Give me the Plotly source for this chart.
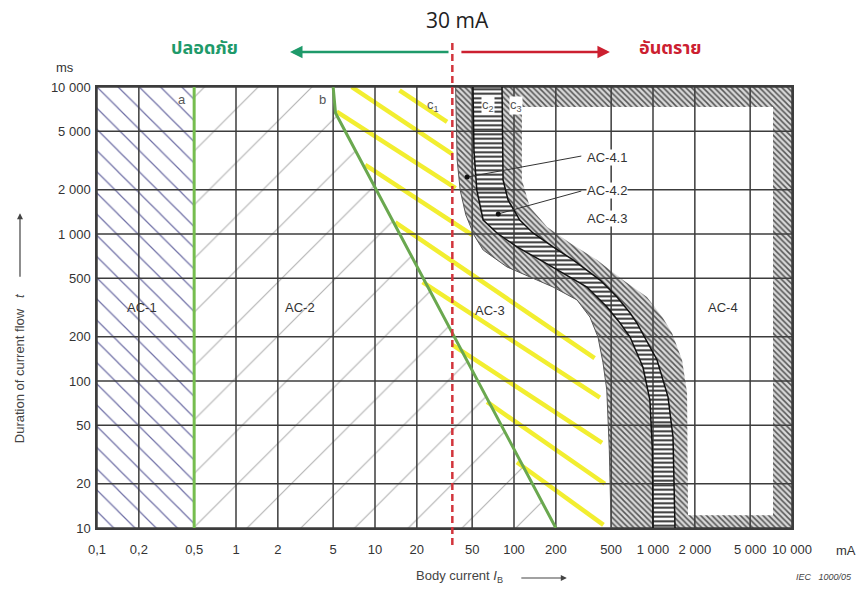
import math
import plotly.graph_objects as go

# ---------------- data ----------------
x_ticks = [0.1, 0.2, 0.5, 1, 2, 5, 10, 20, 50, 100, 200, 500, 1000, 2000, 5000, 10000]
x_ticktext = ["0,1", "0,2", "0,5", "1", "2", "5", "10", "20", "50", "100", "200",
              "500", "1 000", "2 000", "5 000", "10 000"]
y_ticks = [10, 20, 50, 100, 200, 500, 1000, 2000, 5000, 10000]
y_ticktext = ["10", "20", "50", "100", "200", "500", "1 000", "2 000", "5 000", "10 000"]

x_min, x_max = 0.1, 10000
t_min, t_max = 10, 10000

# curve a and curve b
a_current = [0.5, 0.5]
a_time = [10, 10000]
b_current = [5.0, 5.2, 200]
b_time = [10000, 6650, 10]

# curves c1, c2, c3
c1_current = [38, 39, 41, 45, 51.5, 60, 89, 130, 191, 284, 352, 402, 437, 465, 485, 500]
c1_time = [10000, 3190, 1990, 1350, 985, 778, 597, 510, 436, 356, 272, 199, 133, 87, 34, 10]
c2_current = [50.7, 51.5, 54, 60, 75.5, 105, 154, 225, 335, 467, 579, 684, 847, 950, 990, 1000]
c2_time = [10000, 3730, 1990, 1245, 1016, 816, 666, 543, 436, 319, 248, 199, 124, 74, 34, 10]
c3_current = [82, 83.4, 90.6, 110, 137, 191, 266, 416, 551, 684, 767, 1069, 1282, 1393, 1440]
c3_time = [10000, 2330, 1704, 1245, 1016, 816, 666, 486, 373, 290, 248, 139, 78, 41.6, 10]

# inner edge of the hatched AC-4.3 border
edge_current = [114, 114, 130, 173, 253, 396, 608, 905, 1180, 1370, 1618, 1758, 1786]
edge_time = [7310, 2330, 1527, 1116, 868, 666, 486, 373, 268, 212, 139, 83, 12.2]
frame_inner_right = 7300
frame_inner_top = 7310
frame_inner_bottom = 12.2

# yellow highlight strokes in AC-3
yellow_start_current = [6.8, 15, 5.3, 8.5, 14, 22, 36, 64, 105]
yellow_start_time = [10000, 9500, 6800, 2950, 1200, 470, 176, 72, 28]
yellow_end_current = [36, 33, 38, 50, 380, 415, 430, 450, 440]
yellow_end_time = [3500, 5800, 2050, 985, 143, 77, 38, 20, 10.5]

# 30 mA marker (as drawn)
threshold_current = 36

# leader lines for AC-4.1 / AC-4.2
leader_dot_current = [46, 77]
leader_dot_time = [2440, 1370]
leader_end_current = [305, 305]
leader_end_time = [3390, 1960]

zone_labels = ["AC-1", "AC-2", "AC-3", "AC-4"]
zone_current = [0.211, 2.89, 67, 3190]
zone_time = [314, 314, 304, 314]

sub_labels = ["AC-4.1", "AC-4.2", "AC-4.3"]
sub_current = [470, 470, 470]
sub_time = [3340, 1962, 1265]

FONT = "Liberation Sans, Arial, sans-serif"
L = math.log10

fig = go.Figure()

# AC-1 zone
fig.add_trace(go.Scatter(
    x=[x_min, a_current[0], a_current[1], x_min],
    y=[a_time[0], a_time[0], a_time[1], a_time[1]],
    fill="toself", mode="lines", line=dict(width=0), hoverinfo="skip",
    fillpattern=dict(shape="\\", size=15, solidity=0.08, fgcolor="#6f6fa6",
                     bgcolor="white", fillmode="replace")))

# AC-2 zone
fig.add_trace(go.Scatter(
    x=[a_current[0], a_current[1]] + b_current,
    y=[a_time[0], a_time[1]] + b_time,
    fill="toself", mode="lines", line=dict(width=0), hoverinfo="skip",
    fillpattern=dict(shape="/", size=38, solidity=0.03, fgcolor="#b3b3b3",
                     bgcolor="white", fillmode="replace")))

hatch = dict(shape="\\", size=4, solidity=0.38, fgcolor="#555555",
             bgcolor="#d9d9d9", fillmode="replace")

# AC-4.1 band (c1..c2)
fig.add_trace(go.Scatter(
    x=c1_current + c2_current[::-1], y=c1_time + c2_time[::-1],
    fill="toself", mode="lines", line=dict(width=0), hoverinfo="skip",
    fillpattern=hatch))

# AC-4.3 hatched border (ring with a hole)
ring1_x = c3_current + [x_max, x_max, c3_current[0]]
ring1_y = c3_time + [t_min, t_max, c3_time[0]]
ring2_x = [edge_current[0], frame_inner_right, frame_inner_right] + edge_current[::-1]
ring2_y = [frame_inner_top, frame_inner_top, frame_inner_bottom] + edge_time[::-1]
fig.add_trace(go.Scatter(
    x=ring1_x + ring2_x, y=ring1_y + ring2_y,
    fill="toself", mode="lines", line=dict(width=0), hoverinfo="skip",
    fillpattern=hatch))

# AC-4.2 band (c2..c3) horizontal stripes
fig.add_trace(go.Scatter(
    x=c2_current + c3_current[::-1], y=c2_time + c3_time[::-1],
    fill="toself", mode="lines", line=dict(width=0), hoverinfo="skip",
    fillpattern=dict(shape="-", size=4.5, solidity=0.42, fgcolor="#2a2a2a",
                     bgcolor="white", fillmode="replace")))

# yellow strokes
yx, yy = [], []
for xs, ts, xe, te in zip(yellow_start_current, yellow_start_time,
                          yellow_end_current, yellow_end_time):
    yx += [xs, xe, None]
    yy += [ts, te, None]
fig.add_trace(go.Scatter(x=yx, y=yy, mode="lines", hoverinfo="skip",
                         line=dict(color="#f2ee30", width=4.5)))

# grid
gx, gy = [], []
for v in x_ticks:
    gx += [v, v, None]
    gy += [t_min, t_max, None]
for v in y_ticks:
    gx += [x_min, x_max, None]
    gy += [v, v, None]
fig.add_trace(go.Scatter(x=gx, y=gy, mode="lines", hoverinfo="skip",
                         line=dict(color="#3c3c3c", width=1.5)))

# c curves
fig.add_trace(go.Scatter(x=c1_current, y=c1_time, mode="lines", hoverinfo="skip",
                         line=dict(color="#555555", width=1)))
fig.add_trace(go.Scatter(x=c2_current, y=c2_time, mode="lines", hoverinfo="skip",
                         line=dict(color="#111111", width=1.5)))
fig.add_trace(go.Scatter(x=c3_current, y=c3_time, mode="lines", hoverinfo="skip",
                         line=dict(color="#111111", width=1.5)))

# curves a, b
fig.add_trace(go.Scatter(x=a_current, y=a_time, mode="lines", hoverinfo="skip",
                         line=dict(color="#76bd4f", width=3)))
fig.add_trace(go.Scatter(x=b_current, y=b_time, mode="lines", hoverinfo="skip",
                         line=dict(color="#6aa84f", width=3)))

# leader lines + dots
lx, ly = [], []
for xd, td, xe, te in zip(leader_dot_current, leader_dot_time,
                          leader_end_current, leader_end_time):
    lx += [xd, xe, None]
    ly += [td, te, None]
fig.add_trace(go.Scatter(x=lx, y=ly, mode="lines", hoverinfo="skip",
                         line=dict(color="#333333", width=1)))
fig.add_trace(go.Scatter(x=leader_dot_current, y=leader_dot_time, mode="markers",
                         hoverinfo="skip", marker=dict(color="#111111", size=5)))

# 30 mA dashed line
fig.add_shape(type="line", xref="x", yref="paper", x0=threshold_current,
              x1=threshold_current, y0=-0.0385, y1=1.107, layer="above",
              line=dict(color="#d2343c", width=2.5, dash="7px,4px"))

ann = []
C = dict(xanchor="center", yanchor="middle")
# region labels
for txt, xv, tv in zip(zone_labels, zone_current, zone_time):
    ann.append(dict(x=L(xv), y=L(tv), xref="x", yref="y", text=txt, showarrow=False,
                    font=dict(family=FONT, size=13, color="#333333"), **C))
for txt, xv, tv in zip(sub_labels, sub_current, sub_time):
    ann.append(dict(x=L(xv), y=L(tv), xref="x", yref="y", text=txt, showarrow=False,
                    bgcolor="white", borderpad=0,
                    font=dict(family=FONT, size=13, color="#333333"), **C))
for txt, xv, tv, bg in [("a", 0.41, 8160, None), ("b", 4.16, 8160, None),
                        ("c<sub>1</sub>", 26.1, 7540, None),
                        ("c<sub>2</sub>", 65, 7540, "white"),
                        ("c<sub>3</sub>", 103, 7540, "white")]:
    d = dict(x=L(xv), y=L(tv), xref="x", yref="y", text=txt, showarrow=False,
             font=dict(family=FONT, size=13, color="#555555"), borderpad=0, **C)
    if bg:
        d["bgcolor"] = bg
    ann.append(d)

P = dict(xref="paper", yref="paper")
# titles and headers
ann += [
    dict(x=0.519, y=1.152, text="30 mA", showarrow=False,
         font=dict(family="Open Sans, Noto Sans, sans-serif", size=21, color="#222222"),
         **P, **C),
    dict(x=0.155, y=1.088, text="<b>ปลอดภัย</b>", showarrow=False,
         font=dict(family="Noto Sans Thai, Noto Sans, sans-serif", size=18, color="#1e9a6a"),
         **P, **C),
    dict(x=0.824, y=1.088, text="<b>อันตราย</b>", showarrow=False,
         font=dict(family="Noto Sans Thai, Noto Sans, sans-serif", size=18, color="#cc2030"),
         **P, **C),
    dict(x=0.2777, y=1.0794, text="", showarrow=True, ax=160, ay=0, arrowhead=2,
         arrowsize=1, arrowwidth=2.5, arrowcolor="#1e9a6a", **P),
    dict(x=0.738, y=1.0794, text="", showarrow=True, ax=-150, ay=0, arrowhead=2,
         arrowsize=1, arrowwidth=2.5, arrowcolor="#cc2030", **P),
    dict(x=-0.046, y=1.045, text="ms", showarrow=False,
         font=dict(family=FONT, size=13, color="#333333"), **P, **C),
    dict(x=1.078, y=-0.05, text="mA", showarrow=False,
         font=dict(family=FONT, size=13, color="#333333"), **P, **C),
    dict(x=-0.111, y=0.362, textangle=-90, text="Duration of current flow   <i>t</i>",
         showarrow=False, font=dict(family=FONT, size=13, color="#444444"), **P, **C),
    dict(x=-0.1108, y=0.714, text="", showarrow=True, ax=0, ay=65, arrowhead=2,
         arrowsize=1, arrowwidth=1.2, arrowcolor="#444444", **P),
    dict(x=0.522, y=-0.111, text="Body current <i>I</i><sub>B</sub>", showarrow=False,
         font=dict(family=FONT, size=13, color="#444444"), **P, **C),
    dict(x=0.676, y=-0.1134, text="", showarrow=True, ax=-47, ay=0, arrowhead=2,
         arrowsize=1, arrowwidth=1.2, arrowcolor="#444444", **P),
    dict(x=1.046, y=-0.111, text="<i>IEC   1000/05</i>", showarrow=False,
         font=dict(family=FONT, size=9, color="#444444"), **P, **C),
]

fig.update_layout(
    width=861, height=589, margin=dict(l=97, r=69, t=87, b=61),
    paper_bgcolor="white", plot_bgcolor="white", showlegend=False,
    annotations=ann,
    xaxis=dict(type="log", range=[L(x_min), L(x_max)], tickvals=x_ticks,
               ticktext=x_ticktext, showgrid=False, zeroline=False, ticks="",
               showline=True, mirror=True, linecolor="#3c3c3c", linewidth=1.5,
               ticklabelstandoff=9, tickfont=dict(family=FONT, size=13, color="#333333")),
    yaxis=dict(type="log", range=[L(t_min), L(t_max)], tickvals=y_ticks,
               ticktext=y_ticktext, showgrid=False, zeroline=False, ticks="",
               showline=True, mirror=True, linecolor="#3c3c3c", linewidth=1.5,
               ticklabelstandoff=2, tickfont=dict(family=FONT, size=13, color="#333333")),
)

fig.write_html("out.html", config={"displayModeBar": False},
               post_script="document.body.style.margin='0';document.body.style.overflow='hidden';")
